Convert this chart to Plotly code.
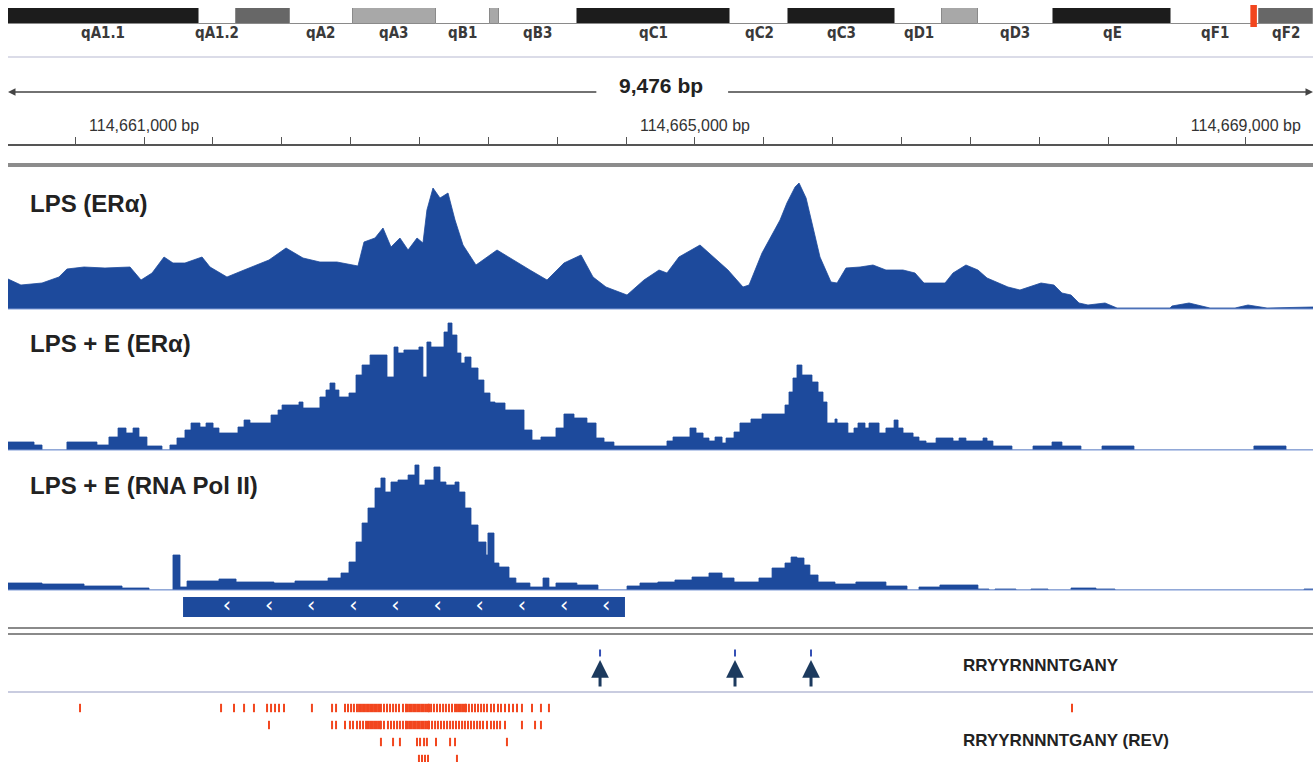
import numpy as np
import plotly.graph_objects as go

W, H = 1313, 762
WINDOW_START = 114660012
WINDOW_BP = 9476

# ---------------- ideogram (per-mille along chromosome) ----------------
band_names = ["qA1.1", "qA1.2", "qA1.3", "qA2", "qA3", "qB1", "qB2", "qB3", "qC1",
              "qC2", "qC3", "qD1", "qD2", "qD3", "qE", "qF1", "qF2"]
band_start = [0, 146, 175, 216, 264, 328, 369, 376, 436, 553, 598, 680, 716, 743, 801, 891, 959]
band_end = [146, 175, 216, 264, 328, 369, 376, 436, 553, 598, 680, 716, 743, 801, 891, 959, 1000]
band_stain = ["gpos100", "gneg", "gpos75", "gneg", "gpos50", "gneg", "gpos50", "gneg", "gpos100",
              "gneg", "gpos100", "gneg", "gpos50", "gneg", "gpos100", "gneg", "gpos75"]
band_label_shown = [True, True, False, True, True, True, False, True, True,
                    True, True, True, False, True, True, True, True]
current_view = [952, 957]

# ---------------- ruler ----------------
ruler_labels_bp = [114661000, 114665000, 114669000]

# ---------------- coverage tracks (bp offset from window start, signal) ----------------
lps_era_pos = [0, 94, 247, 370, 428, 552, 704, 886, 966, 1046, 1133, 1198, 1285, 1409, 1467, 1590,
               1714, 1895, 2019, 2142, 2265, 2389, 2541, 2585, 2665, 2723, 2781, 2846, 2905, 2970,
               3013, 3042, 3086, 3137, 3195, 3246, 3304, 3398, 3551, 3667, 3790, 3914, 4037, 4161,
               4248, 4342, 4495, 4618, 4727, 4785, 4872, 5025, 5119, 5228, 5337, 5381, 5475, 5548,
               5606, 5656, 5715, 5744, 5795, 5838, 5896, 5976, 6020, 6085, 6187, 6281, 6375, 6499,
               6586, 6651, 6804, 6862, 6956, 7043, 7109, 7261, 7348, 7501, 7595, 7653, 7719, 7777,
               7842, 7966, 8053, 8438, 8452, 8576, 8728, 8910, 9004, 9142, 9396, 9476]
lps_era_val = [30, 24, 26, 32, 40, 42, 41, 42, 29, 36, 52, 46, 46, 52, 42, 32,
               39, 49, 61, 51, 47, 47, 43, 67, 71, 81, 62, 71, 59, 71,
               66, 99, 121, 111, 116, 89, 64, 44, 59, 49, 39, 29, 46, 54,
               32, 22, 14, 29, 39, 36, 52, 64, 52, 39, 22, 24, 56, 74,
               89, 106, 122, 126, 111, 86, 52, 27, 26, 41, 42, 44, 39, 39,
               36, 26, 26, 36, 44, 39, 31, 22, 19, 26, 24, 16, 14, 6,
               4, 6, 1, 1, 3, 6, 1, 1, 4, 1, 2, 2]

lpse_era_pos = [0, 189, 247, 428, 646, 733, 799, 857, 908, 951,
                1009, 1118, 1176, 1227, 1285, 1329, 1394, 1438, 1489, 1532,
                1670, 1714, 1757, 1910, 1961, 1990, 2113, 2142, 2265, 2309,
                2338, 2374, 2403, 2476, 2527, 2571, 2629, 2752, 2803, 2832,
                2875, 2984, 3013, 3042, 3071, 3166, 3195, 3224, 3260, 3289,
                3318, 3362, 3413, 3456, 3500, 3536, 3609, 3747, 3805, 3870,
                3979, 4037, 4110, 4204, 4270, 4328, 4400, 4785, 4829, 4952,
                4996, 5047, 5090, 5134, 5185, 5214, 5272, 5315, 5395, 5475,
                5642, 5671, 5700, 5729, 5765, 5838, 5882, 5918, 5947, 6005,
                6020, 6099, 6143, 6172, 6223, 6252, 6325, 6375, 6434, 6463,
                6499, 6572, 6615, 6666, 6739, 6862, 6906, 6956, 7080, 7109,
                7152, 7290, 7443, 7581, 7653, 7791, 7944, 8176, 9047, 9280,
                9476]
lpse_era_val = [8, 5, 0, 8, 5, 13, 22, 17, 22, 13,
                4, 0, 5, 12, 20, 27, 23, 27, 22, 17,
                23, 30, 27, 35, 40, 45, 48, 42, 53, 60,
                67, 60, 53, 57, 75, 85, 95, 73, 103, 97,
                100, 103, 73, 108, 103, 118, 127, 115, 97, 87,
                93, 82, 70, 57, 48, 47, 40, 20, 10, 13,
                22, 36, 32, 27, 12, 8, 4, 9, 13, 22,
                17, 12, 9, 13, 7, 12, 18, 27, 31, 36,
                45, 58, 72, 85, 75, 68, 58, 48, 27, 31,
                27, 17, 22, 27, 22, 27, 17, 22, 30, 22,
                17, 13, 9, 7, 12, 9, 12, 9, 12, 9,
                4, 0, 4, 8, 4, 0, 4, 0, 4, 0,
                0]

lpse_pol2_pos = [0, 247, 552, 828, 1024, 1198, 1249, 1300, 1532, 1656,
                 1931, 2084, 2324, 2418, 2476, 2527, 2571, 2614, 2665, 2708,
                 2738, 2781, 2832, 2905, 2955, 2984, 3028, 3093, 3137, 3180,
                 3246, 3275, 3318, 3362, 3413, 3471, 3485, 3529, 3565, 3638,
                 3688, 3790, 3885, 3928, 3979, 4131, 4284, 4495, 4589, 4719,
                 4843, 4967, 5090, 5185, 5272, 5453, 5548, 5642, 5686, 5729,
                 5780, 5823, 5882, 6005, 6157, 6375, 6528, 6615, 6767, 7043,
                 7123, 7167, 7319, 7428, 7552, 7719, 7900, 8038, 9411, 9476]
lpse_pol2_val = [7, 6, 4, 2, 0, 35, 3, 9, 11, 8,
                 7, 9, 12, 17, 28, 48, 67, 82, 102, 112,
                 98, 108, 110, 115, 125, 105, 110, 123, 108, 105,
                 108, 98, 82, 65, 48, 35, 57, 27, 23, 12,
                 7, 3, 12, 3, 7, 5, 0, 4, 7, 8,
                 10, 13, 17, 12, 8, 12, 22, 27, 33, 32,
                 25, 15, 8, 6, 8, 4, 0, 3, 5, 1,
                 0, 1, 0, 1, 0, 2, 1, 0, 1, 1]

track_names = ["LPS (ERα)", "LPS + E (ERα)", "LPS + E (RNA Pol II)"]

# ---------------- gene (minus strand) ----------------
gene_start, gene_end = 1271, 4480

# ---------------- motif hits ----------------
motif_fwd_name = "RRYYRNNNTGANY"
motif_fwd_pos = [4299, 5279, 5831]
motif_rev_name = "RRYYRNNNTGANY (REV)"
rev_row1 = [523, 1547, 1641, 1714, 1786, 1881, 1910, 1939, 1968, 2004, 2207, 2353, 2382, 2447,
            2469, 2491, 2512, 2534, 2549, 2563, 2578, 2592, 2607, 2621, 2636, 2650, 2665, 2679,
            2694, 2708, 2730, 2752, 2774, 2796, 2817, 2839, 2868, 2890, 2904, 2919, 2933, 2948,
            2962, 2977, 2991, 3006, 3020, 3035, 3049, 3057, 3072, 3093, 3115, 3137, 3159, 3180,
            3202, 3224, 3246, 3260, 3275, 3289, 3304, 3318, 3326, 3347, 3369, 3391, 3413, 3435,
            3456, 3478, 3507, 3529, 3558, 3580, 3609, 3638, 3667, 3696, 3732, 3805, 3870, 3928, 7726]
rev_row2 = [1895, 2353, 2382, 2447, 2483, 2505, 2534, 2556, 2578, 2600, 2614, 2629, 2643, 2658,
            2672, 2687, 2701, 2708, 2730, 2759, 2781, 2803, 2825, 2846, 2868, 2890, 2904, 2919,
            2933, 2948, 2962, 2977, 2991, 3006, 3020, 3035, 3049, 3057, 3079, 3101, 3122, 3144,
            3166, 3188, 3210, 3231, 3253, 3275, 3297, 3318, 3340, 3362, 3384, 3406, 3427, 3449,
            3478, 3507, 3529, 3551, 3573, 3609, 3732, 3827, 3870]
rev_row3 = [2708, 2796, 2846, 2970, 2992, 3021, 3042, 3108, 3210, 3246, 3623]
rev_row4 = [2984, 3006, 3028, 3050, 3260]

# ---------------- styling helpers ----------------
BLUE = "#1d4a9c"
BASE_BLUE = "#7f9ad6"
RED = "#f2461e"
NAVY = "#1c3a5e"
FONT = "Liberation Sans"
STAIN = {"gpos100": "#1c1c1c", "gpos75": "#676767", "gpos50": "#a8a8a8", "gneg": "#ffffff"}


def yp(p):
    return 1 - p / H


def xp(p):
    return p / W


X0 = WINDOW_START
X1 = WINDOW_START + WINDOW_BP
XDOM = [8 / W, 1.0]

fig = go.Figure()

# ideogram
fig.add_trace(go.Bar(
    orientation="h", y=[0] * len(band_names),
    base=band_start, x=[e - s for s, e in zip(band_start, band_end)],
    width=1, marker=dict(color=[STAIN[s] for s in band_stain], line=dict(color="#8a8a8a", width=1)),
    xaxis="x2", yaxis="y7", hoverinfo="skip", showlegend=False))

# coverage tracks
for pos, val, shape, ya in [(lps_era_pos, lps_era_val, "linear", "y"),
                            (lpse_era_pos, lpse_era_val, "hv", "y2"),
                            (lpse_pol2_pos, lpse_pol2_val, "hv", "y3")]:
    fig.add_trace(go.Scatter(
        x=[WINDOW_START + p for p in pos], y=val, mode="lines",
        line=dict(color=BLUE, width=0.8, shape=shape), fill="tozeroy", fillcolor=BLUE,
        xaxis="x", yaxis=ya, hoverinfo="skip", showlegend=False))

# gene chevrons (minus strand)
chev = np.arange(WINDOW_START + gene_start + 319, WINDOW_START + gene_end - 20, 306)
fig.add_trace(go.Scatter(
    x=chev, y=[0.5] * len(chev), mode="text", text=["‹"] * len(chev),
    textfont=dict(color="white", size=21, family="DejaVu Sans"),
    xaxis="x", yaxis="y4", hoverinfo="skip", showlegend=False))

# forward motif hits (small blue marks)
fig.add_trace(go.Scatter(
    x=[WINDOW_START + p for p in motif_fwd_pos], y=[0.75] * len(motif_fwd_pos), mode="markers",
    marker=dict(symbol="line-ns", size=5, line=dict(color="#3550b5", width=2)),
    xaxis="x", yaxis="y6", hoverinfo="skip", showlegend=False))

# reverse motif hits
for r, row in enumerate([rev_row1, rev_row2, rev_row3, rev_row4]):
    fig.add_trace(go.Scatter(
        x=[WINDOW_START + p for p in row], y=[r] * len(row), mode="markers",
        marker=dict(symbol="line-ns", size=6, line=dict(color=RED, width=2)),
        xaxis="x", yaxis="y5", hoverinfo="skip", showlegend=False))

shapes = []
annotations = []

# red current-view marker on ideogram
shapes.append(dict(type="rect", xref="x2", yref="paper", x0=current_view[0], x1=current_view[1],
                   y0=yp(27), y1=yp(5), fillcolor=RED, line=dict(width=0)))
for s, e, name, show in zip(band_start, band_end, band_names, band_label_shown):
    if show:
        annotations.append(dict(xref="x2", yref="paper", x=(s + e) / 2, y=yp(33), text=f"<b>{name}</b>",
                                showarrow=False, font=dict(family="DejaVu Sans Condensed", size=15, color="#3a3a3a"),
                                xanchor="center", yanchor="middle"))

# horizontal separators
for y, col, w in [(57, "#cfd1e0", 1.5), (165, "#8c8c8c", 4), (628, "#8a8a8a", 2), (634, "#8a8a8a", 2),
                  (692, "#c9cce0", 2)]:
    shapes.append(dict(type="line", xref="paper", yref="paper", x0=XDOM[0], x1=1, y0=yp(y), y1=yp(y),
                       line=dict(color=col, width=w)))
# track baselines
for y in [309, 450, 590]:
    shapes.append(dict(type="line", xref="paper", yref="paper", x0=XDOM[0], x1=1, y0=yp(y), y1=yp(y),
                       line=dict(color=BASE_BLUE, width=1.2)))

# gene body
shapes.append(dict(type="rect", xref="x", yref="paper", x0=WINDOW_START + gene_start, x1=WINDOW_START + gene_end,
                   y0=yp(617), y1=yp(597), fillcolor=BLUE, line=dict(width=0), layer="below"))

# span arrows and label
mid = WINDOW_START + WINDOW_BP / 2
annotations.append(dict(xref="x", yref="paper", x=mid, y=yp(86), text=f"<b>{WINDOW_BP:,} bp</b>",
                        showarrow=False, font=dict(family=FONT, size=21, color="#222"),
                        xanchor="center", yanchor="middle"))
for head, tail in [(X0, mid - 455), (X1, mid + 480)]:
    annotations.append(dict(xref="x", yref="paper", x=head, y=yp(92), axref="x", ax=tail, ayref="pixel", ay=0,
                            text="", showarrow=True, arrowhead=2, arrowsize=1, arrowwidth=1.5,
                            arrowcolor="#444", standoff=0, startstandoff=0))

# motif arrows
for p in motif_fwd_pos:
    annotations.append(dict(xref="x", yref="y6", x=WINDOW_START + p, y=(692 - 660) / 52, ax=0, ay=28,
                            text="", showarrow=True, arrowhead=2, arrowsize=1.18, arrowwidth=3,
                            arrowcolor=NAVY, standoff=0))

# track labels
for name, y in zip(track_names, [203, 344, 485]):
    annotations.append(dict(xref="paper", yref="paper", x=xp(28), y=yp(y), text=f"<b>{name}</b>",
                            showarrow=False, font=dict(family=FONT, size=24, color="#222"),
                            xanchor="left", yanchor="middle"))
for name, y in [(motif_fwd_name, 665), (motif_rev_name, 740)]:
    annotations.append(dict(xref="paper", yref="paper", x=xp(961), y=yp(y), text=f"<b>{name}</b>",
                            showarrow=False, font=dict(family=FONT, size=17, color="#222"),
                            xanchor="left", yanchor="middle"))

hidden = dict(visible=False, fixedrange=True)
fig.update_layout(
    width=W, height=H, margin=dict(l=0, r=0, t=0, b=0),
    paper_bgcolor="white", plot_bgcolor="rgba(0,0,0,0)",
    showlegend=False, bargap=0,
    xaxis=dict(domain=XDOM, range=[X0, X1], anchor="free", position=yp(145), side="top",
               showline=True, linecolor="#555", linewidth=1.5, showgrid=False, zeroline=False,
               ticks="outside", ticklen=7, tickwidth=1.2, tickcolor="#555",
               tickmode="array", tickvals=ruler_labels_bp,
               ticktext=[f"{v:,} bp" for v in ruler_labels_bp],
               tickfont=dict(family=FONT, size=16, color="#333"),
               minor=dict(tickmode="array", tickvals=list(np.arange(WINDOW_START - WINDOW_START % 500 + 500, X1, 500)),
                          ticks="outside", ticklen=7, tickwidth=1.2, tickcolor="#555", showgrid=False),
               fixedrange=True),
    xaxis2=dict(domain=XDOM, range=[0, 1000], anchor="y7", **hidden),
    yaxis=dict(domain=[yp(309), yp(169)], range=[0, 140], anchor="free", position=0, **hidden),
    yaxis2=dict(domain=[yp(450), yp(310)], range=[0, 140], anchor="free", position=0, **hidden),
    yaxis3=dict(domain=[yp(590), yp(450)], range=[0, 140], anchor="free", position=0, **hidden),
    yaxis4=dict(domain=[yp(617), yp(597)], range=[0, 1], anchor="free", position=0, **hidden),
    yaxis5=dict(domain=[0, yp(699)], range=[3.176, -0.529], anchor="free", position=0, **hidden),
    yaxis6=dict(domain=[yp(692), yp(640)], range=[0, 1], anchor="free", position=0, **hidden),
    yaxis7=dict(domain=[yp(24), yp(8)], range=[-0.5, 0.5], anchor="x2", **hidden),
    shapes=shapes, annotations=annotations,
)

fig.write_html("out.html", config={"displayModeBar": False},
               post_script="document.body.style.margin='0';document.body.style.overflow='hidden';")
